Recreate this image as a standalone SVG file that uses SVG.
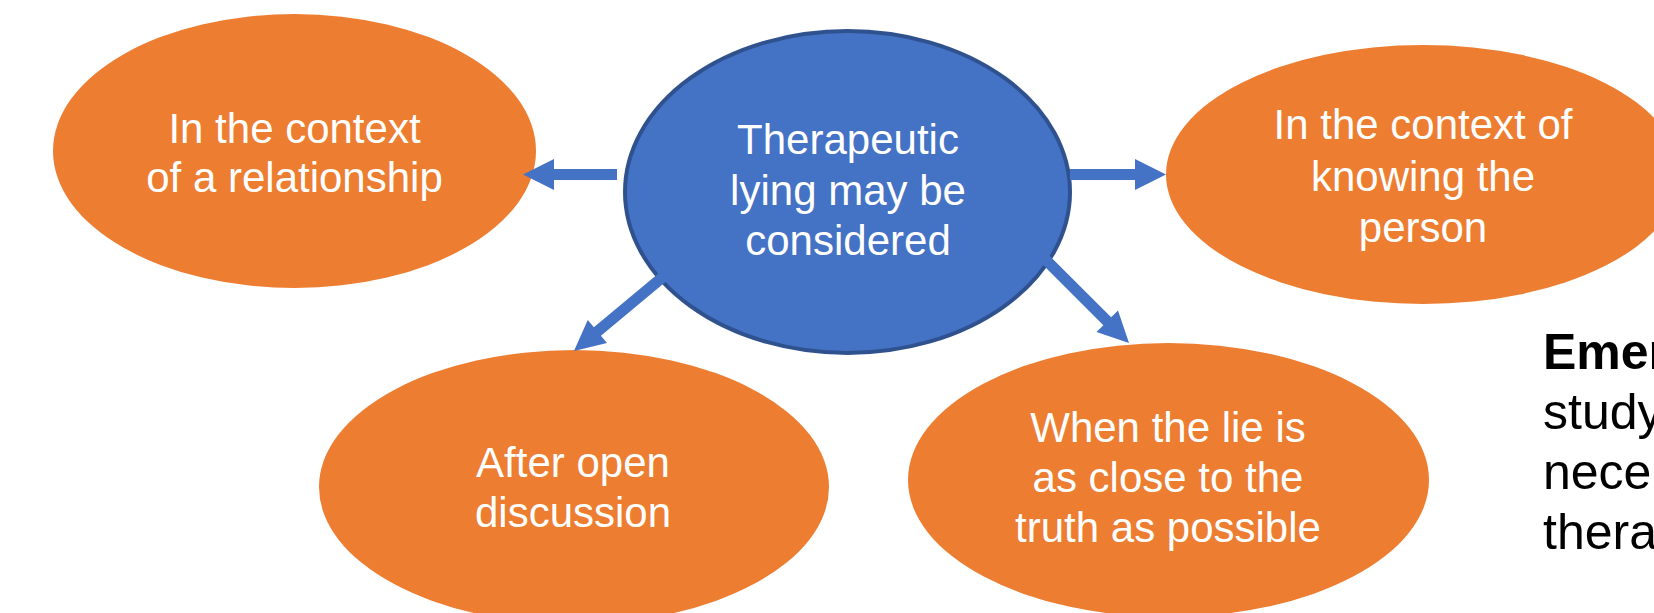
<svg xmlns="http://www.w3.org/2000/svg" width="1654" height="613" viewBox="0 0 1654 613">
  <style>
    .leaf { fill: #ED7D31; }
    .hub { fill: #4472C4; stroke: #2F528F; stroke-width: 4; }
    .label { font-family: "Liberation Sans", Arial, sans-serif; font-size: 42px; fill: #FFFFFF; text-anchor: middle; }
    .arrow { fill: #4472C4; }
    .side { font-family: "Liberation Sans", Arial, sans-serif; font-size: 50px; fill: #000000; }
  </style>

  <rect x="0" y="0" width="1654" height="613" fill="#FFFFFF"/>

  <!-- outer nodes -->
  <g id="node-relationship">
    <ellipse class="leaf" cx="294.5" cy="151" rx="241.5" ry="137"/>
    <text class="label" x="294.5" y="143">In the context</text>
    <text class="label" x="294.5" y="192">of a relationship</text>
  </g>

  <g id="node-knowing">
    <ellipse class="leaf" cx="1423" cy="174.5" rx="257" ry="129.5"/>
    <text class="label" x="1423" y="139">In the context of</text>
    <text class="label" x="1423" y="191">knowing the</text>
    <text class="label" x="1423" y="242">person</text>
  </g>

  <g id="node-discussion">
    <ellipse class="leaf" cx="574" cy="487" rx="255" ry="137"/>
    <text class="label" x="573" y="477">After open</text>
    <text class="label" x="573" y="527">discussion</text>
  </g>

  <g id="node-truth">
    <ellipse class="leaf" cx="1168.5" cy="480" rx="260.5" ry="137"/>
    <text class="label" x="1168" y="442">When the lie is</text>
    <text class="label" x="1168" y="492">as close to the</text>
    <text class="label" x="1168" y="542">truth as possible</text>
  </g>

  <!-- central node -->
  <g id="node-center">
    <ellipse class="hub" cx="847.5" cy="192" rx="222.5" ry="161"/>
    <text class="label" x="848" y="154">Therapeutic</text>
    <text class="label" x="848" y="205">lying may be</text>
    <text class="label" x="848" y="255">considered</text>
  </g>

  <!-- block arrows, drawn along +x and rotated into place -->
  <g id="connectors">
    <path class="arrow" transform="translate(617,174.5) rotate(180)" d="M0,-5.5 H63 V-15.5 L94,0 L63,15.5 V5.5 H0 Z"/>
    <path class="arrow" transform="translate(1070,174.5)" d="M0,-5.5 H65 V-15.5 L96,0 L65,15.5 V5.5 H0 Z"/>
    <path class="arrow" transform="translate(664,276) rotate(140.2)" d="M0,-5.5 H86.7 V-15 L117.2,0 L86.7,15 V5.5 H0 Z"/>
    <path class="arrow" transform="translate(1041,255) rotate(45)" d="M0,-5.5 H93.7 V-15.2 L124.5,0 L93.7,15.2 V5.5 H0 Z"/>
  </g>

  <!-- side note, running off the right edge -->
  <g id="side-note">
    <text class="side" x="1543" y="369" font-weight="bold">Emer</text>
    <text class="side" x="1543" y="429">study</text>
    <text class="side" x="1543" y="489">nece</text>
    <text class="side" x="1543" y="549">thera</text>
  </g>
</svg>
